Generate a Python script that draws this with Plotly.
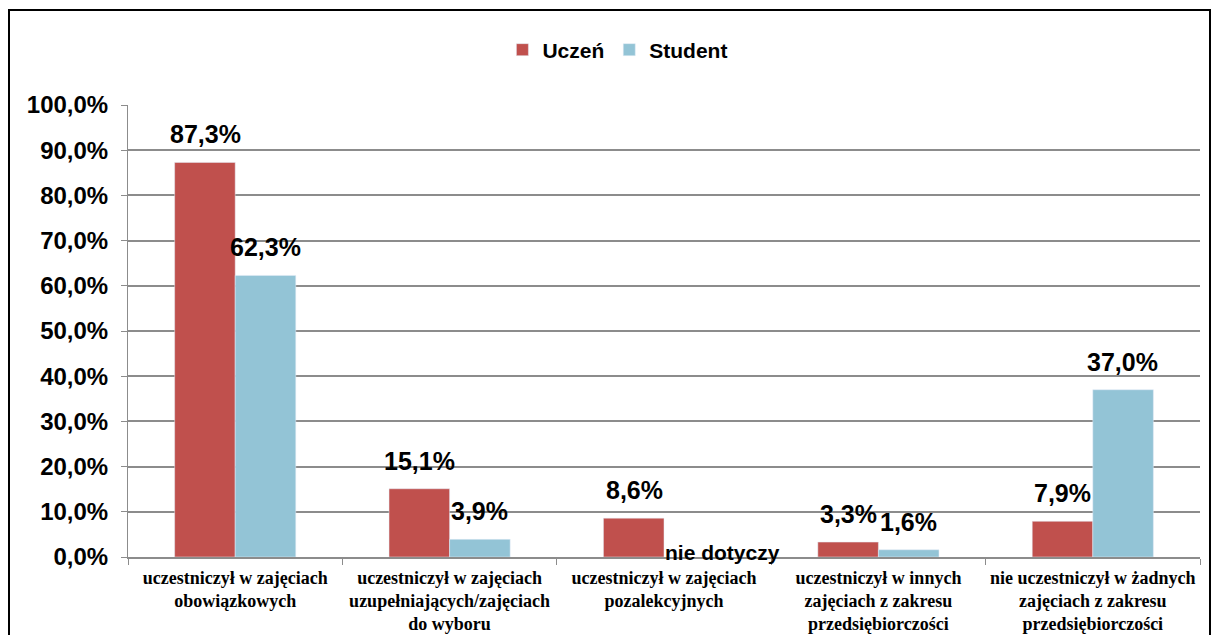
import plotly.graph_objects as go

categories = [
    "uczestniczył w zajęciach<br>obowiązkowych",
    "uczestniczył w zajęciach<br>uzupełniających/zajęciach<br>do wyboru",
    "uczestniczył w zajęciach<br>pozalekcyjnych",
    "uczestniczył w innych<br>zajęciach z zakresu<br>przedsiębiorczości",
    "nie uczestniczył w żadnych<br>zajęciach z zakresu<br>przedsiębiorczości",
]
uczen = [0.873, 0.151, 0.086, 0.033, 0.079]
student = [0.623, 0.039, None, 0.016, 0.370]
tick_vals = [i / 10 for i in range(11)]

RED = "#C0504D"
BLUE = "#93C4D6"
SANS = "Liberation Sans"

fig = go.Figure()
fig.add_trace(go.Bar(name="Uczeń", x=categories, y=uczen, marker_color=RED))
fig.add_trace(go.Bar(name="Student", x=categories, y=student, marker_color=BLUE))

BAR_HALF = 30
for series, shift in ((uczen, -BAR_HALF), (student, BAR_HALF)):
    for cat, val in zip(categories, series):
        if val is None:
            continue
        fig.add_annotation(
            x=cat, y=val, xref="x", yref="y",
            text=f"{val * 100:.1f}%".replace(".", ","),
            showarrow=False, xshift=shift, yshift=12, yanchor="bottom",
            font=dict(family=SANS, size=25, color="black", weight="bold"),
        )

fig.add_annotation(
    x=categories[2], y=0, xref="x", yref="y", text="nie dotyczy",
    showarrow=False, xshift=58, yshift=5,
    font=dict(family=SANS, size=21, color="black", weight="bold"),
)

# page body has an 8px margin; size the figure so it fits the window without scrollbars
# and the plot area lands at page x 128..1200, y 105..557
W, H = 1203, 627
L, T = 120, 97
PW, PH = 1072, 452

fig.add_shape(
    type="rect", xref="paper", yref="paper",
    x0=(9 - 128) / PW, x1=(1210 - 128) / PW,
    y0=(557 - 660) / PH, y1=(557 - 10) / PH,
    line=dict(color="black", width=2), fillcolor="rgba(0,0,0,0)", layer="below",
)

fig.update_layout(
    width=W, height=H,
    margin=dict(l=L, r=W - L - PW, t=T, b=H - T - PH),
    plot_bgcolor="white", paper_bgcolor="white",
    barmode="group", bargap=0.435, bargroupgap=0,
    showlegend=True,
    legend=dict(
        orientation="h", x=0.457, xanchor="center", y=1 + (105 - 50) / PH, yanchor="middle",
        font=dict(family=SANS, size=21, color="black", weight="bold"),
        itemwidth=30, traceorder="normal",
    ),
    yaxis=dict(
        range=[0, 1.0], tickvals=tick_vals,
        ticktext=[f"{v * 100:.1f}%".replace(".", ",") for v in tick_vals],
        tickfont=dict(family=SANS, size=24, color="black", weight="bold"),
        showgrid=True, gridcolor="#8C8C8C", gridwidth=2,
        showline=True, linecolor="#8C8C8C", linewidth=1,
        ticks="outside", ticklen=6, tickcolor="#8C8C8C",
        ticklabelstandoff=8, automargin=False,
        zeroline=False,
    ),
    xaxis=dict(
        showline=True, linecolor="#8C8C8C", linewidth=2,
        ticks="outside", ticklen=6, tickcolor="#8C8C8C", tickson="boundaries",
        tickfont=dict(family="Liberation Serif", size=18, color="black", weight="bold"),
        tickangle=0, ticklabelstandoff=3, automargin=False,
    ),
)

fig.write_html("out.html")
